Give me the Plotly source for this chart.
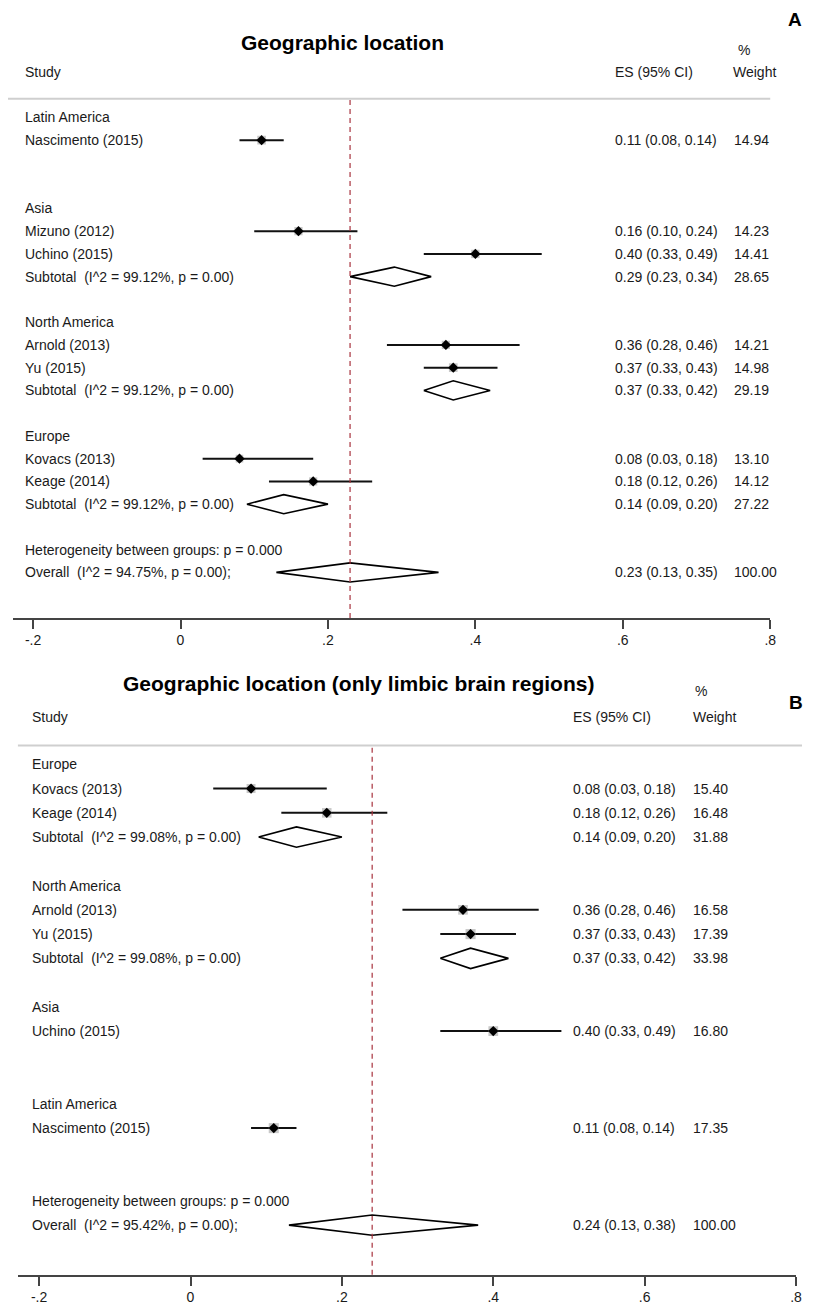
import plotly.graph_objects as go

# page body has an 8px margin: the figure is placed at (8, 8) inside the 816x1313 window
OFF = 8
W, H = 816 - 2 * OFF, 1313 - 2 * OFF
FONT = "Liberation Sans, Arial, sans-serif"
TXT = "#1a1a1a"

# ---------------- Panel A data ----------------
A_title = "Geographic location"
A_labels = ["Latin America", "Nascimento (2015)",
            "Asia", "Mizuno (2012)", "Uchino (2015)", "Subtotal  (I^2 = 99.12%, p = 0.00)",
            "North America", "Arnold (2013)", "Yu (2015)", "Subtotal  (I^2 = 99.12%, p = 0.00)",
            "Europe", "Kovacs (2013)", "Keage (2014)", "Subtotal  (I^2 = 99.12%, p = 0.00)",
            "Heterogeneity between groups: p = 0.000", "Overall  (I^2 = 94.75%, p = 0.00);"]
A_rows = [0, 1, 4, 5, 6, 7, 9, 10, 11, 12, 14, 15, 16, 17, 19, 20]
A_kind = ["group", "study", "group", "study", "study", "sub", "group", "study", "study", "sub",
          "group", "study", "study", "sub", "het", "overall"]
A_es = [None, 0.11, None, 0.16, 0.40, 0.29, None, 0.36, 0.37, 0.37, None, 0.08, 0.18, 0.14, None, 0.23]
A_lo = [None, 0.08, None, 0.10, 0.33, 0.23, None, 0.28, 0.33, 0.33, None, 0.03, 0.12, 0.09, None, 0.13]
A_hi = [None, 0.14, None, 0.24, 0.49, 0.34, None, 0.46, 0.43, 0.42, None, 0.18, 0.26, 0.20, None, 0.35]
A_wt = [None, 14.94, None, 14.23, 14.41, 28.65, None, 14.21, 14.98, 29.19, None, 13.10, 14.12, 27.22, None, 100.00]

# ---------------- Panel B data ----------------
B_title = "Geographic location (only limbic brain regions)"
B_labels = ["Europe", "Kovacs (2013)", "Keage (2014)", "Subtotal  (I^2 = 99.08%, p = 0.00)",
            "North America", "Arnold (2013)", "Yu (2015)", "Subtotal  (I^2 = 99.08%, p = 0.00)",
            "Asia", "Uchino (2015)",
            "Latin America", "Nascimento (2015)",
            "Heterogeneity between groups: p = 0.000", "Overall  (I^2 = 95.42%, p = 0.00);"]
B_rows = [0, 1, 2, 3, 5, 6, 7, 8, 10, 11, 14, 15, 18, 19]
B_kind = ["group", "study", "study", "sub", "group", "study", "study", "sub",
          "group", "study", "group", "study", "het", "overall"]
B_es = [None, 0.08, 0.18, 0.14, None, 0.36, 0.37, 0.37, None, 0.40, None, 0.11, None, 0.24]
B_lo = [None, 0.03, 0.12, 0.09, None, 0.28, 0.33, 0.33, None, 0.33, None, 0.08, None, 0.13]
B_hi = [None, 0.18, 0.26, 0.20, None, 0.46, 0.43, 0.42, None, 0.49, None, 0.14, None, 0.38]
B_wt = [None, 15.40, 16.48, 31.88, None, 16.58, 17.39, 33.98, None, 16.80, None, 17.35, None, 100.00]

tick_vals = [-0.2, 0, 0.2, 0.4, 0.6, 0.8]
tick_text = ["-.2", "0", ".2", ".4", ".6", ".8"]

fig = go.Figure()
annotations = []
shapes = []


def py(px):
    """window pixel row -> paper y"""
    return 1 - (px - OFF) / H


def px_x(px):
    """window pixel column -> paper x"""
    return (px - OFF) / W


def panel(idx, title, labels, rows, kind, es, lo, hi, wt, cfg):
    xa = "x" if idx == 1 else "x2"
    ya = "y" if idx == 1 else "y2"
    # CI lines for studies
    lx, ly = [], []
    for k, e, l, h, r in zip(kind, es, lo, hi, rows):
        if k == "study":
            lx += [l, h, None]
            ly += [r, r, None]
    fig.add_trace(go.Scatter(x=lx, y=ly, mode="lines", line=dict(color="#111", width=2),
                             xaxis=xa, yaxis=ya, hoverinfo="skip", showlegend=False))
    # weight boxes + point estimates
    sx = [e for k, e in zip(kind, es) if k == "study"]
    sy = [r for k, r in zip(kind, rows) if k == "study"]
    sw = [w for k, w in zip(kind, wt) if k == "study"]
    fig.add_trace(go.Scatter(x=sx, y=sy, mode="markers",
                             marker=dict(symbol="square", size=[0.58 * w for w in sw],
                                         color="#b0b0b0", line=dict(width=0)),
                             xaxis=xa, yaxis=ya, hoverinfo="skip", showlegend=False))
    fig.add_trace(go.Scatter(x=sx, y=sy, mode="markers",
                             marker=dict(symbol="diamond", size=8, color="#000"),
                             xaxis=xa, yaxis=ya, hoverinfo="skip", showlegend=False))
    # pooled diamonds
    dh = 0.42
    for k, e, l, h, r in zip(kind, es, lo, hi, rows):
        if k in ("sub", "overall"):
            fig.add_trace(go.Scatter(x=[l, e, h, e, l], y=[r, r - dh, r, r + dh, r], mode="lines",
                                     line=dict(color="#000", width=1.6),
                                     xaxis=xa, yaxis=ya, hoverinfo="skip", showlegend=False))
    # text columns
    for lab, k, e, l, h, w, r in zip(labels, kind, es, lo, hi, wt, rows):
        annotations.append(dict(x=px_x(cfg["lab_x"]), xref="paper", y=r, yref=ya,
                                text=lab.replace("  ", "\u00a0\u00a0"), showarrow=False,
                                xanchor="left", yanchor="middle",
                                font=dict(size=14, color=TXT, family=FONT)))
        if e is not None:
            annotations.append(dict(x=px_x(cfg["es_x"]), xref="paper", y=r, yref=ya,
                                    text=f"{e:.2f} ({l:.2f}, {h:.2f})", showarrow=False,
                                    xanchor="left", yanchor="middle",
                                    font=dict(size=14, color=TXT, family=FONT)))
            annotations.append(dict(x=px_x(cfg["wt_x"]), xref="paper", y=r, yref=ya,
                                    text=f"{w:.2f}", showarrow=False,
                                    xanchor="left", yanchor="middle",
                                    font=dict(size=14, color=TXT, family=FONT)))
    # headers
    annotations.append(dict(x=px_x(cfg["title_x"]), xref="paper", y=py(cfg["title_y"]), yref="paper",
                            text=f"<b>{title}</b>", showarrow=False, xanchor="center", yanchor="middle",
                            font=dict(size=21, color="#000", family=FONT)))
    for txt, xpx, ypx in [("%", cfg["pct_x"], cfg["pct_y"]),
                          ("Study", cfg["lab_x"], cfg["head_y"]),
                          ("ES (95% CI)", cfg["es_x"], cfg["head_y"]),
                          ("Weight", cfg["wh_x"], cfg["head_y"])]:
        annotations.append(dict(x=px_x(xpx), xref="paper", y=py(ypx), yref="paper", text=txt,
                                showarrow=False, xanchor="left", yanchor="middle",
                                font=dict(size=14, color=TXT, family=FONT)))
    annotations.append(dict(x=px_x(cfg["pl_x"]), xref="paper", y=py(cfg["pl_y"]), yref="paper",
                            text=f"<b>{cfg['pl']}</b>", showarrow=False, xanchor="center",
                            yanchor="middle", font=dict(size=19, color="#000", family=FONT)))
    # top grey rule
    shapes.append(dict(type="line", xref="paper", yref="paper",
                       x0=px_x(cfg["rule_x0"]), x1=px_x(cfg["rule_x1"]),
                       y0=py(cfg["top"]), y1=py(cfg["top"]),
                       line=dict(color="#cfcfcf", width=2)))
    # dashed reference line at overall estimate
    ov = [e for k, e in zip(kind, es) if k == "overall"][0]
    shapes.append(dict(type="line", xref=xa, yref=ya + " domain", x0=ov, x1=ov, y0=0, y1=1,
                       line=dict(color="#a8323e", width=1.2, dash="5px,4px")))


cfgA = dict(lab_x=23, es_x=618, wt_x=737, wh_x=736, pct_x=742, pct_y=50, head_y=72,
            title_x=345, title_y=43, pl="A", pl_x=801, pl_y=20,
            rule_x0=8, rule_x1=776, top=99.3)
cfgB = dict(lab_x=30, es_x=575, wt_x=696, wh_x=696, pct_x=698, pct_y=695, head_y=721,
            title_x=361, title_y=688, pl="B", pl_x=802, pl_y=707,
            rule_x0=18, rule_x1=808, top=750)

panel(1, A_title, A_labels, A_rows, A_kind, A_es, A_lo, A_hi, A_wt, cfgA)
panel(2, B_title, B_labels, B_rows, B_kind, B_es, B_lo, B_hi, B_wt, cfgB)

axis_common = dict(showgrid=False, zeroline=False, showline=True, linecolor="#444", linewidth=1.5,
                   ticks="outside", ticklen=9, tickwidth=1.5, tickcolor="#444",
                   tickvals=tick_vals, ticktext=tick_text,
                   tickfont=dict(size=14, color=TXT, family=FONT), fixedrange=True)
yaxis_common = dict(visible=False, showgrid=False, zeroline=False, fixedrange=True)

fig.update_layout(
    width=W, height=H, margin=dict(l=0, r=0, t=0, b=0),
    paper_bgcolor="white", plot_bgcolor="white", showlegend=False,
    xaxis=dict(domain=[px_x(13), px_x(776)], range=[-0.2273, 0.8], anchor="y", **axis_common),
    yaxis=dict(domain=[py(621.7), py(99.3)], range=[22.0, -0.82], anchor="x", **yaxis_common),
    xaxis2=dict(domain=[px_x(18), px_x(802)], range=[-0.228, 0.8], anchor="y2", **axis_common),
    yaxis2=dict(domain=[py(1282.7), py(750)], range=[21.05, -0.78], anchor="x2", **yaxis_common),
    annotations=annotations, shapes=shapes,
)

fig.write_html("out.html")
